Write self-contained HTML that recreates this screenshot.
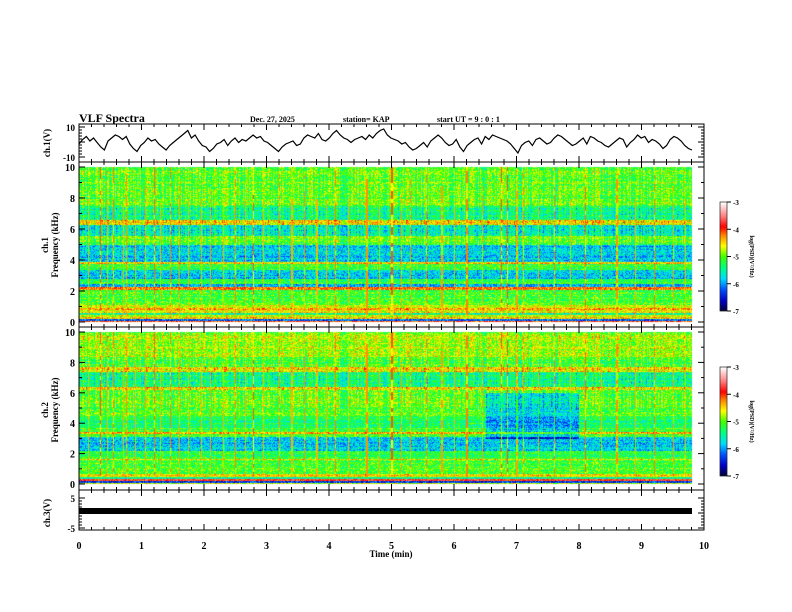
<!DOCTYPE html>
<html><head><meta charset="utf-8"><style>
body{margin:0;background:#fff}
#wrap{position:relative;width:792px;height:612px;overflow:hidden;font-family:"Liberation Serif",serif}
canvas,svg{position:absolute;left:0;top:0}
</style></head><body>
<div id="wrap">
<canvas id="cv" width="792" height="612"></canvas>
<svg id="sv" width="792" height="612"></svg>
</div>
<script>
// ---- data ----
const timeTicks=[0,1,2,3,4,5,6,7,8,9,10];
const freqTicks=[0,2,4,6,8,10];
const cbTicks=[-3,-4,-5,-6,-7];
const ch1BandLo=[0,0.1,0.2,0.35,0.5,0.6,0.8,0.95,1.1,2.1,2.3,2.5,2.8,3.4,3.8,3.9,5.0,5.6,6.3,6.6,7.5];
const ch1BandHi=[0.1,0.2,0.35,0.5,0.6,0.8,0.95,1.1,2.1,2.3,2.5,2.8,3.4,3.8,3.9,5.0,5.6,6.3,6.6,7.5,10];
const ch1BandVal=[-4.0,-6.2,-4.4,-4.7,-5.5,-4.6,-4.3,-4.7,-5.1,-4.2,-5.9,-5.2,-5.8,-5.1,-4.5,-5.8,-5.0,-5.6,-4.5,-5.4,-5.0];
const ch2BandLo=[0,0.1,0.2,0.35,0.5,0.7,1.6,1.7,2.2,3.1,3.35,3.45,3.7,4.5,6.2,6.4,7.4,7.7,8.4];
const ch2BandHi=[0.1,0.2,0.35,0.5,0.7,1.6,1.7,2.2,3.1,3.35,3.45,3.7,4.5,6.2,6.4,7.4,7.7,8.4,10];
const ch2BandVal=[-4.6,-6.3,-4.0,-5.5,-4.5,-5.1,-4.4,-5.2,-5.8,-5.1,-4.3,-5.1,-5.3,-5.0,-4.5,-5.4,-4.6,-5.1,-4.8];
const streakTimes=[0.15,0.33,0.45,0.55,0.7,0.75,0.9,1.05,1.2,1.3,1.45,1.6,1.75,1.95,2.1,2.3,2.5,2.65,2.78,2.95,3.2,3.4,3.6,3.8,3.95,4.1,4.3,4.6,4.8,5.0,5.15,5.3,5.55,5.8,6.0,6.2,6.45,6.75,6.85,7.0,7.1,7.35,7.6,7.85,8.1,8.35,8.6,8.9,9.2,9.5,9.7];
const streakStrength=[0.5,1.0,0.5,0.8,0.5,0.7,0.5,0.6,0.9,0.5,0.8,0.6,0.5,0.5,0.6,0.5,0.8,0.5,1.0,0.5,0.7,0.5,0.7,0.5,0.5,0.8,0.5,0.7,0.5,1.0,0.6,0.7,0.8,0.6,0.5,0.8,0.6,1.0,1.0,0.6,0.7,0.5,0.8,0.5,0.9,0.5,0.7,0.5,0.8,0.6,0.5];
const wave=[-1,2,4,1,3,0,-3,-5,1,3,5,4,2,4,-1,-4,-6,-2,0,3,1,2,-1,-3,-5,-2,0,2,4,6,8,3,5,1,-2,-3,-6,-4,-1,0,2,-2,1,3,0,2,1,3,5,3,4,1,0,-2,-4,-6,-3,-1,0,1,-2,-1,3,5,4,3,6,2,1,3,6,8,5,3,2,0,2,3,4,2,5,3,6,8,9,5,3,2,1,-1,0,-3,-5,-4,-2,0,-3,1,3,5,3,0,-2,-1,2,-3,-6,-2,0,2,3,-1,4,2,5,4,3,2,1,-1,-4,-7,-2,0,1,-2,2,3,1,-1,0,3,5,4,2,0,-2,-1,1,3,-1,4,3,1,0,-2,-3,-1,1,3,2,-3,0,2,5,3,4,0,2,1,-1,-4,-2,2,4,3,1,-2,-4,-5];
// ---- layout ----
const X0=79,X1=704,XD=692;
const xs=t=>X0+(X1-X0)*t/10;
const P1={top:167,bot:322},P2={top:332,bot:484};
const fy=(p,f)=>p.bot-(p.bot-p.top)*f/10;
const cm=[[-7,[0,0,48]],[-6.6,[0,0,200]],[-6.2,[0,80,255]],[-5.8,[0,220,255]],[-5.4,[0,255,130]],[-5.0,[60,255,0]],[-4.6,[255,255,0]],[-4.2,[255,130,0]],[-3.9,[255,0,0]],[-3.5,[255,128,128]],[-3,[255,255,255]]];
function col(v){if(v<=-7)return cm[0][1];if(v>=-3)return cm[cm.length-1][1];
for(let i=0;i<cm.length-1;i++){if(v>=cm[i][0]&&v<=cm[i+1][0]){const a=(v-cm[i][0])/(cm[i+1][0]-cm[i][0]);return cm[i][1].map((c,k)=>c+(cm[i+1][1][k]-c)*a);}}}
function h(x,y){let n=(x*374761393+y*668265263)^0x5bd1e995;n=(n^(n>>>13))*1274126177;return ((n^(n>>>16))>>>0)/4294967296;}
const cv=document.getElementById('cv');const ctx=cv.getContext('2d');
function spec(p,lo,hi,val,dark){
 const w=XD-X0,hgt=p.bot-p.top;const img=ctx.createImageData(w,hgt);
 for(let y=0;y<hgt;y++){const f=10*(hgt-y)/hgt;let bv=-5;for(let i=0;i<lo.length;i++)if(f>=lo[i]&&f<hi[i])bv=val[i];
  const rowN=(h(3,y)-0.5)*0.5;
  for(let x=0;x<w;x++){const t=10*x/(X1-X0);let v=bv+rowN*0.5+(h(x,y)-0.5)*0.8+(h(x,999)-0.5)*0.6*(f>5?1:0.3);
   for(let s=0;s<streakTimes.length;s++){const d=Math.abs(x-(xs(streakTimes[s])-X0));if(d<0.6&&f>0.5){const top=2+8*streakStrength[s];if(f<top+2)v=Math.max(v,-4.6+0.5*streakStrength[s]-(h(s,y>>2)>0.6?0.5:0));}}
   if(dark&&t>6.5&&t<8&&f>3&&f<6)v-=0.7;
   const c=col(v);const k=(y*w+x)*4;img.data[k]=c[0];img.data[k+1]=c[1];img.data[k+2]=c[2];img.data[k+3]=255;}}
 ctx.putImageData(img,X0,p.top);}
spec(P1,ch1BandLo,ch1BandHi,ch1BandVal,false);
spec(P2,ch2BandLo,ch2BandHi,ch2BandVal,true);
function cbar(top,bot){for(let y=top;y<bot;y++){const v=-3-4*(y-top)/(bot-top);const c=col(v);ctx.fillStyle=`rgb(${c.map(Math.round)})`;ctx.fillRect(720,y,7,1);}}
cbar(202,311);cbar(367,476);
// ---- svg ----
const NS='http://www.w3.org/2000/svg';const sv=document.getElementById('sv');
function el(tag,a,txt){const e=document.createElementNS(NS,tag);for(const k in a)e.setAttribute(k,a[k]);if(txt!==undefined)e.textContent=txt;sv.appendChild(e);return e;}
function line(x1,y1,x2,y2,w){return el('line',{x1,y1,x2,y2,stroke:'#000','stroke-width':w||1});}
function text(x,y,s,sz,anc,bold){return el('text',{x,y,'font-size':sz,'text-anchor':anc||'start','font-weight':bold?'bold':'normal','font-family':'Liberation Serif, serif'},s);}
const boxes=[[124,162],[162,327],[327,490],[490,530]];
boxes.forEach((b,i)=>{const r=el('rect',{x:X0,y:b[0],width:X1-X0,height:b[1]-b[0],fill:'none',stroke:'#000','stroke-width':1});


for(let m=0;m<=50;m++){const x=xs(m/5);const L=m%5==0?6:3;line(x,b[0],x,b[0]+L);line(x,b[1],x,b[1]-L);}});
let d='';wave.forEach((v,i)=>{const x=X0+(XD-X0)*i/(wave.length-1);const y=142.5-v*15/10;d+=(i?'L':'M')+x.toFixed(1)+','+y.toFixed(1);});
const wp=el('path',{d,fill:'none',stroke:'#000','stroke-width':1.2});


const b3=el('rect',{x:X0,y:508,width:XD-X0,height:6,fill:'#000'});


[[127,'10'],[157,'-10']].forEach(a=>text(75,a[0]+4,a[1],9,'end',true));
[P1,P2].forEach(p=>{freqTicks.forEach(f=>{const y=fy(p,f);text(75,y+4,String(f),10,'end',true);line(X0,y,X0+6,y);line(X1,y,X1-6,y);});
 for(let f=1;f<10;f+=2){const y=fy(p,f);line(X0,y,X0+3,y);line(X1,y,X1-3,y);}});
[[498,'5'],[528,'-5']].forEach(a=>text(75,a[0]+4,a[1],9,'end',true));
for(let v=-5;v<=5;v++){const y=513-v*3;line(X0,y,X0+(v%5?3:6),y);line(X1,y,X1-(v%5?3:6),y);}
for(let v=-10;v<=10;v+=2){const y=142-v*1.5;line(X0,y,X0+(v%10?3:6),y);line(X1,y,X1-(v%10?3:6),y);}
timeTicks.forEach(t=>text(xs(t),549,String(t),10,'middle',true));
text(391,557,'Time  (min)',9,'middle',true);
text(79,122,'VLF Spectra',12,'start',true);
text(250,122,'Dec. 27, 2025',8,'start',true);
text(343,122,'station= KAP',8,'start',true);
text(437,122,'start  UT  =   9  :  0   : 1',8,'start',true);
function vtext(x,y,s,sz){const e=text(0,0,s,sz,'middle',true);e.setAttribute('transform',`translate(${x},${y}) rotate(-90)`);return e;}
vtext(50,143,'ch.1(V)',9);vtext(48,245,'ch.1',9);vtext(58,245,'Frequency  (kHz)',9);
vtext(48,410,'ch.2',9);vtext(58,410,'Frequency  (kHz)',9);vtext(50,513,'ch.3(V)',9);
[[202,311],[367,476]].forEach(c=>{el('rect',{x:720,y:c[0],width:7,height:c[1]-c[0],fill:'none',stroke:'#000','stroke-width':0.6});
 cbTicks.forEach((v,i)=>{const y=c[0]+(c[1]-c[0])*i/4;line(727,y,731,y);text(733,y+3,String(v),7,'start',true);});
 const e=text(0,0,'log(PSD)(V²/Hz)',6,'middle',true);e.setAttribute('transform',`translate(750,${(c[0]+c[1])/2}) rotate(90)`);});
</script>
</body></html>
